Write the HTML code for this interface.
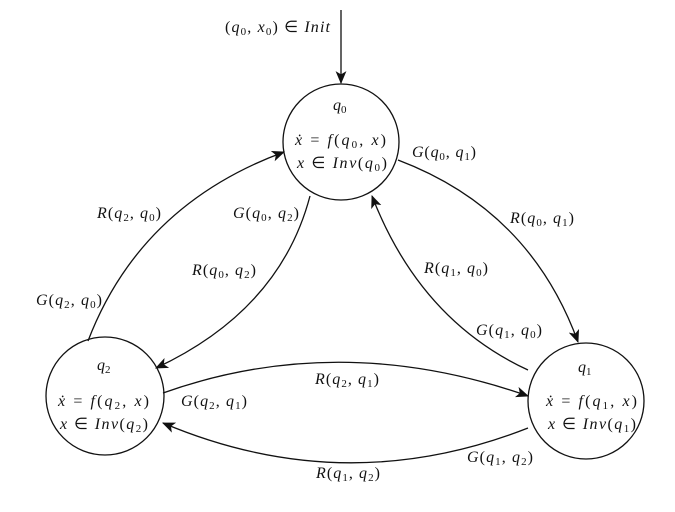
<!DOCTYPE html>
<html><head><meta charset="utf-8"><style>
html,body{margin:0;padding:0;background:#fff;}
svg{display:block;}
text{font-family:"Liberation Serif",serif;font-size:16px;fill:#111;}
.i{font-style:italic;}
.s{font-size:11px;font-style:normal;}
</style></head><body>
<svg width="675" height="512" viewBox="0 0 675 512" xmlns="http://www.w3.org/2000/svg">
<defs>
<marker id="a" viewBox="0 0 12 10" refX="11" refY="5" markerWidth="13" markerHeight="11" markerUnits="userSpaceOnUse" orient="auto">
<path d="M0,0 L12,5 L0,10 L3,5 z" fill="#111"/></marker>
</defs>
<g fill="none" stroke="#111" stroke-width="1.3">
<circle cx="341" cy="142" r="58"/>
<circle cx="105" cy="396" r="59"/>
<circle cx="586" cy="401" r="58"/>
<line x1="341" y1="10" x2="341" y2="83" marker-end="url(#a)"/>
<path d="M398,160 Q530,210 578,342" marker-end="url(#a)"/>
<path d="M528,370 Q420,320 372,196" marker-end="url(#a)"/>
<path d="M310,196 Q280,310 156,368" marker-end="url(#a)"/>
<path d="M88,341 Q140,205 284,152" marker-end="url(#a)"/>
<path d="M163,393 Q340,330 528,396" marker-end="url(#a)"/>
<path d="M528,428 Q345,500 163,423" marker-end="url(#a)"/>
</g>
<text x="225" y="32" textLength="105" lengthAdjust="spacing">(<tspan class="i">q</tspan><tspan class="s" baseline-shift="-3">0</tspan>, <tspan class="i">x</tspan><tspan class="s" baseline-shift="-3">0</tspan>) ∈ <tspan class="i">Init</tspan></text>
<text x="333" y="110" class="i">q<tspan class="s" baseline-shift="-3">0</tspan></text>
<text x="295" y="145" textLength="91" lengthAdjust="spacing"><tspan class="i">ẋ</tspan> = <tspan class="i">f</tspan>(<tspan class="i">q</tspan><tspan class="s" baseline-shift="-3">0</tspan>, <tspan class="i">x</tspan>)</text>
<text x="297" y="168" textLength="90" lengthAdjust="spacing"><tspan class="i">x</tspan> ∈ <tspan class="i">Inv</tspan>(<tspan class="i">q</tspan><tspan class="s" baseline-shift="-3">0</tspan>)</text>
<text x="97" y="370" class="i">q<tspan class="s" baseline-shift="-3">2</tspan></text>
<text x="58" y="406" textLength="91" lengthAdjust="spacing"><tspan class="i">ẋ</tspan> = <tspan class="i">f</tspan>(<tspan class="i">q</tspan><tspan class="s" baseline-shift="-3">2</tspan>, <tspan class="i">x</tspan>)</text>
<text x="60" y="429" textLength="88" lengthAdjust="spacing"><tspan class="i">x</tspan> ∈ <tspan class="i">Inv</tspan>(<tspan class="i">q</tspan><tspan class="s" baseline-shift="-3">2</tspan>)</text>
<text x="578" y="372" class="i">q<tspan class="s" baseline-shift="-3">1</tspan></text>
<text x="546" y="406" textLength="91" lengthAdjust="spacing"><tspan class="i">ẋ</tspan> = <tspan class="i">f</tspan>(<tspan class="i">q</tspan><tspan class="s" baseline-shift="-3">1</tspan>, <tspan class="i">x</tspan>)</text>
<text x="548" y="429" textLength="88" lengthAdjust="spacing"><tspan class="i">x</tspan> ∈ <tspan class="i">Inv</tspan>(<tspan class="i">q</tspan><tspan class="s" baseline-shift="-3">1</tspan>)</text>
<g>
<text x="412" y="157" textLength="64" lengthAdjust="spacing"><tspan class="i">G</tspan>(<tspan class="i">q</tspan><tspan class="s" baseline-shift="-3">0</tspan>, <tspan class="i">q</tspan><tspan class="s" baseline-shift="-3">1</tspan>)</text>
<text x="510" y="223" textLength="64" lengthAdjust="spacing"><tspan class="i">R</tspan>(<tspan class="i">q</tspan><tspan class="s" baseline-shift="-3">0</tspan>, <tspan class="i">q</tspan><tspan class="s" baseline-shift="-3">1</tspan>)</text>
<text x="424" y="273" textLength="64" lengthAdjust="spacing"><tspan class="i">R</tspan>(<tspan class="i">q</tspan><tspan class="s" baseline-shift="-3">1</tspan>, <tspan class="i">q</tspan><tspan class="s" baseline-shift="-3">0</tspan>)</text>
<text x="476" y="335" textLength="66" lengthAdjust="spacing"><tspan class="i">G</tspan>(<tspan class="i">q</tspan><tspan class="s" baseline-shift="-3">1</tspan>, <tspan class="i">q</tspan><tspan class="s" baseline-shift="-3">0</tspan>)</text>
<text x="233" y="218" textLength="66" lengthAdjust="spacing"><tspan class="i">G</tspan>(<tspan class="i">q</tspan><tspan class="s" baseline-shift="-3">0</tspan>, <tspan class="i">q</tspan><tspan class="s" baseline-shift="-3">2</tspan>)</text>
<text x="192" y="275" textLength="64" lengthAdjust="spacing"><tspan class="i">R</tspan>(<tspan class="i">q</tspan><tspan class="s" baseline-shift="-3">0</tspan>, <tspan class="i">q</tspan><tspan class="s" baseline-shift="-3">2</tspan>)</text>
<text x="97" y="218" textLength="64" lengthAdjust="spacing"><tspan class="i">R</tspan>(<tspan class="i">q</tspan><tspan class="s" baseline-shift="-3">2</tspan>, <tspan class="i">q</tspan><tspan class="s" baseline-shift="-3">0</tspan>)</text>
<text x="36" y="305" textLength="66" lengthAdjust="spacing"><tspan class="i">G</tspan>(<tspan class="i">q</tspan><tspan class="s" baseline-shift="-3">2</tspan>, <tspan class="i">q</tspan><tspan class="s" baseline-shift="-3">0</tspan>)</text>
<text x="315" y="384" textLength="64" lengthAdjust="spacing"><tspan class="i">R</tspan>(<tspan class="i">q</tspan><tspan class="s" baseline-shift="-3">2</tspan>, <tspan class="i">q</tspan><tspan class="s" baseline-shift="-3">1</tspan>)</text>
<text x="181" y="406" textLength="66" lengthAdjust="spacing"><tspan class="i">G</tspan>(<tspan class="i">q</tspan><tspan class="s" baseline-shift="-3">2</tspan>, <tspan class="i">q</tspan><tspan class="s" baseline-shift="-3">1</tspan>)</text>
<text x="467" y="462" textLength="66" lengthAdjust="spacing"><tspan class="i">G</tspan>(<tspan class="i">q</tspan><tspan class="s" baseline-shift="-3">1</tspan>, <tspan class="i">q</tspan><tspan class="s" baseline-shift="-3">2</tspan>)</text>
<text x="316" y="478" textLength="64" lengthAdjust="spacing"><tspan class="i">R</tspan>(<tspan class="i">q</tspan><tspan class="s" baseline-shift="-3">1</tspan>, <tspan class="i">q</tspan><tspan class="s" baseline-shift="-3">2</tspan>)</text>
</g>
</svg>
</body></html>
